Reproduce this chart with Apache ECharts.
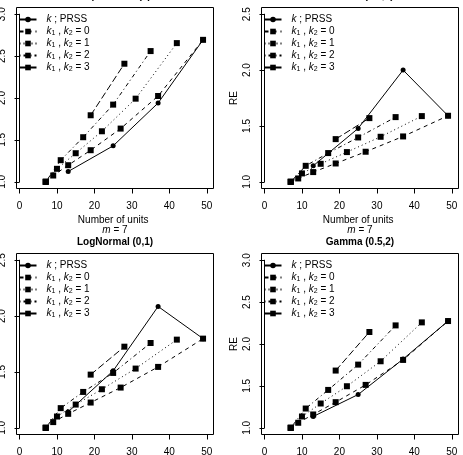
<!DOCTYPE html>
<html>
<head>
<meta charset="utf-8">
<script src="https://cdn.jsdelivr.net/npm/echarts@6/dist/echarts.min.js"></script>
<style>
html, body { margin: 0; padding: 0; background: #fff; }
#chart { width: 463px; height: 455px; }
</style>
</head>
<body>
<div id="chart"></div>
<script>
// number of units for each scheme
var unitsP = [13, 25, 37, 49];
var units0 = [7, 9, 13, 19, 27, 37, 49];
var units1 = [7, 10, 15, 22, 31, 42];
var units2 = [7, 11, 17, 25, 35];
var units3 = [19, 28];

var titles = ['Exponential (1)', 'Weibull (0.5,2)', 'LogNormal (0,1)', 'Gamma (0.5,2)'];
var yMax = [3, 2.5, 2.5, 3];

// RE values
var expP = [1.123, 1.429, 1.94, 2.694];
var exp0 = [1.0, 1.075, 1.198, 1.377, 1.635, 2.024, 2.694];
var exp1 = [1.0, 1.155, 1.341, 1.603, 1.992, 2.655];
var exp2 = [1.0, 1.258, 1.532, 1.921, 2.56];
var exp3 = [1.794, 2.409];

var weiP = [1.143, 1.478, 2.0, 1.591];
var wei0 = [1.0, 1.03, 1.087, 1.164, 1.269, 1.406, 1.591];
var wei1 = [1.0, 1.075, 1.161, 1.266, 1.403, 1.588];
var wei2 = [1.0, 1.143, 1.257, 1.397, 1.579];
var wei3 = [1.382, 1.57];

var lnP = [1.143, 1.51, 2.086, 1.798];
var ln0 = [1.0, 1.051, 1.125, 1.226, 1.36, 1.545, 1.798];
var ln1 = [1.0, 1.101, 1.208, 1.345, 1.53, 1.789];
var ln2 = [1.0, 1.176, 1.321, 1.491, 1.759];
var ln3 = [1.476, 1.726];

var gamP = [1.135, 1.397, 1.82, 2.274];
var gam0 = [1.0, 1.06, 1.159, 1.306, 1.512, 1.81, 2.274];
var gam1 = [1.0, 1.135, 1.29, 1.496, 1.794, 2.258];
var gam2 = [1.0, 1.23, 1.452, 1.754, 2.222];
var gam3 = [1.683, 2.143];

var panels = [
  [expP, exp0, exp1, exp2, exp3],
  [weiP, wei0, wei1, wei2, wei3],
  [lnP, ln0, ln1, ln2, ln3],
  [gamP, gam0, gam1, gam2, gam3]
];
var unitSets = [unitsP, units0, units1, units2, units3];
var names = ['PRSS', 'k0', 'k1', 'k2', 'k3'];
var dashes = ['solid', [4, 4], [1, 3], [1, 3, 4, 3], [7, 3]];

var FONT = 'Liberation Sans, Arial, sans-serif';

// layout of the four boxes
var boxLeft = [16.5, 261.5, 16.5, 261.5];
var boxTop = [7.5, 7.5, 253.5, 253.5];
var boxW = 197, boxH = 181;
var padL = 3, padR = 6.7, padV = 6.7;

var grids = [], xAxes = [], yAxes = [], series = [], legends = [], graphics = [];

function legendLabel(name) {
  if (name === 'PRSS') return '{i|k}{n| ; PRSS}{s| }';
  var j = name.charAt(1);
  return '{i|k}{s|1}{n| , }{i|k}{s|2}{n| = ' + j + '}';
}

for (var p = 0; p < 4; p++) {
  var gl = boxLeft[p] + padL, gt = boxTop[p] + padV;
  var gw = boxW - padL - padR, gh = boxH - 2 * padV;
  grids.push({ left: gl, top: gt, width: gw, height: gh, containLabel: false, outerBoundsMode: 'none' });
  xAxes.push({
    type: 'value', gridIndex: p, min: 0, max: 50, interval: 10,
    position: 'bottom', offset: padV,
    name: p < 2 ? 'Number of units' : '', nameLocation: 'middle', nameGap: 27,
    nameTextStyle: { fontSize: 10, fontFamily: FONT, color: '#000' },
    axisLine: { show: true, lineStyle: { color: '#000', width: 1 } },
    axisTick: { show: true, length: 5, lineStyle: { color: '#000' } },
    axisLabel: { fontSize: 10, fontFamily: FONT, color: '#000', margin: 13 },
    splitLine: { show: false }
  });
  yAxes.push({
    type: 'value', gridIndex: p, min: 1, max: yMax[p], interval: 0.5,
    position: 'left', offset: padL,
    name: 'RE', nameLocation: 'middle', nameGap: 22, nameRotate: 90,
    nameTextStyle: { fontSize: 10, fontFamily: FONT, color: '#000' },
    axisLine: { show: true, lineStyle: { color: '#000', width: 1 } },
    axisTick: { show: true, length: 5, lineStyle: { color: '#000' } },
    axisLabel: { fontSize: 10, fontFamily: FONT, color: '#000', rotate: 90, margin: 9,
      formatter: function (v) { return v.toFixed(1); } },
    splitLine: { show: false }
  });
  for (var s = 0; s < 5; s++) {
    var xs = unitSets[s], ys = panels[p][s];
    series.push({
      name: names[s], type: 'line', xAxisIndex: p, yAxisIndex: p,
      data: xs.map(function (x, i) { return [x, ys[i]]; }),
      symbol: s === 0 ? 'circle' : 'rect', symbolSize: s === 0 ? 5 : 6,
      showAllSymbol: true, clip: false, silent: true,
      lineStyle: { color: '#000', width: 1, type: dashes[s] },
      itemStyle: { color: '#000' }
    });
  }
  legends.push({
    left: boxLeft[p] + 2, top: boxTop[p] + 6, orient: 'vertical',
    padding: 0, itemGap: 1, itemWidth: 17, itemHeight: 7,
    selectedMode: false, data: names,
    formatter: legendLabel,
    textStyle: {
      color: '#000', fontSize: 10, fontFamily: FONT, padding: [0, 0, 0, 5],
      rich: {
        i: { fontStyle: 'italic', fontSize: 10, fontFamily: FONT, lineHeight: 10, verticalAlign: 'top', color: '#000' },
        n: { fontSize: 10, fontFamily: FONT, lineHeight: 10, verticalAlign: 'top', color: '#000' },
        s: { fontSize: 7, fontFamily: FONT, lineHeight: 8, padding: [4, 0, 0, 0], verticalAlign: 'bottom', color: '#000' }
      }
    }
  });
  graphics.push({
    type: 'rect', silent: true,
    shape: { x: boxLeft[p], y: boxTop[p], width: boxW, height: boxH },
    style: { fill: 'none', stroke: '#000', lineWidth: 1 }
  });
  var cx = boxLeft[p] + boxW / 2;
  graphics.push({
    type: 'text', silent: true, x: cx, y: boxTop[p] - 11.5,
    style: { text: titles[p], fontSize: 10, fontWeight: 'bold', fontFamily: FONT,
      fill: '#000', align: 'center', verticalAlign: 'middle' }
  });
  if (p >= 2) {
    graphics.push({
      type: 'text', silent: true, x: cx, y: boxTop[p] - 23.5,
      style: { text: '{i|m} = 7', fontSize: 10, fontFamily: FONT, fill: '#000',
        align: 'center', verticalAlign: 'middle',
        rich: { i: { fontStyle: 'italic', fontSize: 10, fontFamily: FONT, fill: '#000' } } }
    });
  }
}

var chart = echarts.init(document.getElementById('chart'));
chart.setOption({
  animation: false,
  backgroundColor: '#fff',
  grid: grids,
  xAxis: xAxes,
  yAxis: yAxes,
  legend: legends,
  series: series,
  graphic: graphics
});
window.onresize = chart.resize;
</script>
</body>
</html>
